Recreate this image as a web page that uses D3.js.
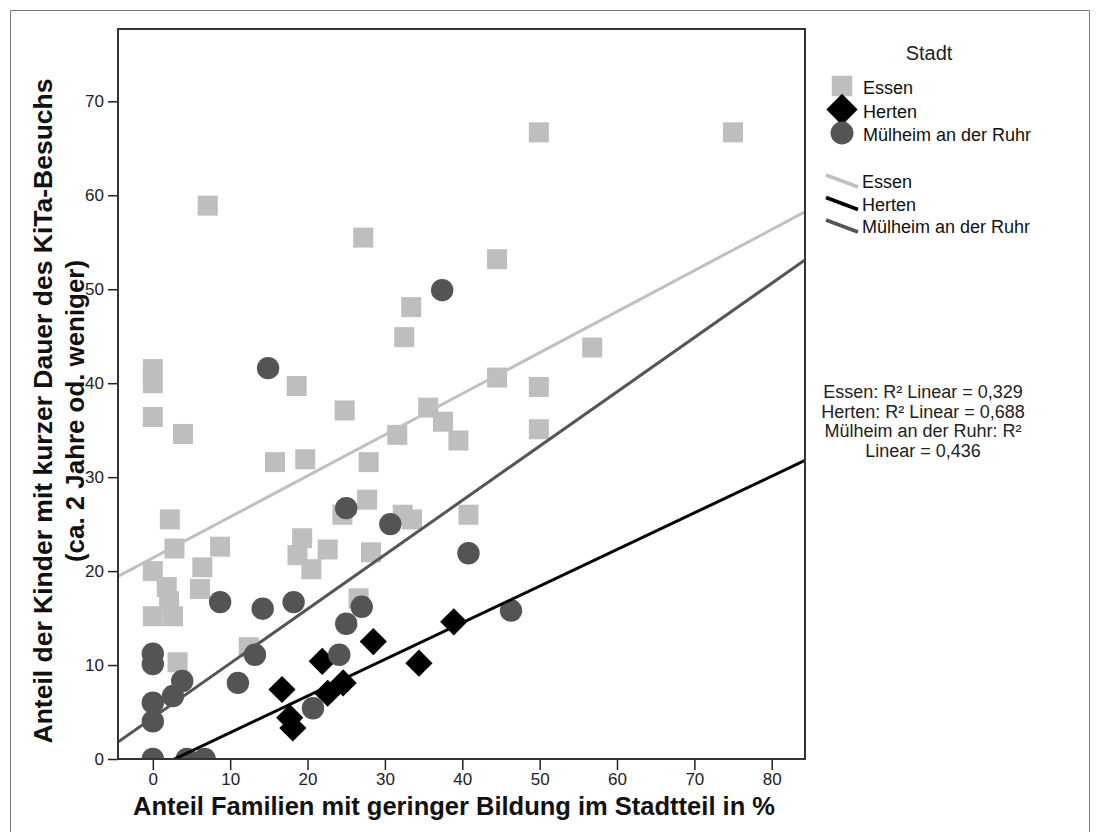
<!DOCTYPE html>
<html>
<head>
<meta charset="utf-8">
<script src="https://cdn.jsdelivr.net/npm/d3@7"></script>
<style>
  html, body { margin: 0; padding: 0; background: #fff; }
  svg { display: block; font-family: "Liberation Sans", Arial, sans-serif; }
</style>
</head>
<body>
<svg id="chart" width="1100" height="832"></svg>
<script>
// Share of families with low education (x, %) vs share of children with short KiTa attendance (y, %)
const cities = ["Essen", "Herten", "Mülheim an der Ruhr"];

const essenPoints = [
  [49.9, 66.7], [75.0, 66.7], [7.1, 58.9], [27.2, 55.5], [44.5, 53.2],
  [33.4, 48.1], [32.5, 44.9], [56.8, 43.8], [0, 41.5], [0, 40.0],
  [18.6, 39.7], [44.5, 40.6], [49.9, 39.6], [24.8, 37.1], [35.6, 37.4],
  [0, 36.4], [37.5, 35.9], [3.9, 34.6], [31.6, 34.5], [39.5, 33.9],
  [49.9, 35.1], [15.8, 31.6], [19.7, 31.9], [27.9, 31.6], [27.7, 27.6],
  [24.5, 26.0], [32.3, 26.0], [33.5, 25.5], [40.8, 26.0], [19.3, 23.5],
  [18.7, 21.7], [22.6, 22.3], [20.5, 20.2], [28.2, 22.0], [26.6, 17.1],
  [2.2, 25.5], [2.8, 22.4], [8.7, 22.6], [0, 20.0], [6.4, 20.4],
  [1.8, 18.3], [2.1, 16.8], [6.1, 18.1], [0, 15.2], [2.6, 15.2],
  [3.2, 10.3], [12.4, 11.9]
];

const hertenPoints = [
  [16.7, 7.4], [17.7, 4.4], [18.1, 3.3], [21.9, 10.4], [22.6, 7.0],
  [24.6, 8.1], [28.5, 12.5], [34.4, 10.2], [38.9, 14.6]
];

const muelheimPoints = [
  [14.9, 41.6], [37.4, 49.9], [25.0, 26.7], [30.7, 25.0], [40.8, 21.9],
  [46.3, 15.8], [8.7, 16.7], [14.2, 16.0], [18.2, 16.7], [27.0, 16.2],
  [25.0, 14.4], [24.1, 11.1], [20.7, 5.4], [0, 11.2], [0, 10.1],
  [3.8, 8.3], [2.6, 6.7], [0, 6.0], [0, 4.0], [13.2, 11.1],
  [11.0, 8.1], [0, 0], [4.4, 0], [6.7, 0]
];

// Linear fit per city: intercept and slope
const fitIntercepts = [21.4, -1.1, 4.4];
const fitSlopes = [0.437, 0.39, 0.578];
const r2Lines = [
  "Essen: R² Linear = 0,329",
  "Herten: R² Linear = 0,688",
  "Mülheim an der Ruhr: R²",
  "Linear = 0,436"
];

const xTicks = [0, 10, 20, 30, 40, 50, 60, 70, 80];
const yTicks = [0, 10, 20, 30, 40, 50, 60, 70];

const xTitle = "Anteil Familien mit geringer Bildung im Stadtteil in %";
const yTitleLines = ["Anteil der Kinder mit kurzer Dauer des KiTa-Besuchs", "(ca. 2 Jahre od. weniger)"];

const pointFill = ["#bebebe", "#000000", "#545454"];
const lineStroke = ["#c0c0c0", "#000000", "#555555"];

const svg = d3.select("#chart");
const plot = { left: 118, right: 805, top: 29, bottom: 759 };

const x = d3.scaleLinear().domain([-4.5, 84.3]).range([plot.left, plot.right]);
const y = d3.scaleLinear().domain([0, 77.7]).range([plot.bottom, plot.top]);

// outer frame
svg.append("path")
  .attr("d", "M10.5,840 V10.5 H1089.5 V840")
  .attr("fill", "none").attr("stroke", "#777").attr("stroke-width", 1);

svg.append("defs").append("clipPath").attr("id", "plotClip")
  .append("rect")
  .attr("x", plot.left).attr("y", plot.top)
  .attr("width", plot.right - plot.left).attr("height", plot.bottom - plot.top);

const diamond = r => `M0,${-r}L${r},0L0,${r}L${-r},0Z`;

function drawMarker(sel, cityIndex, size) {
  if (cityIndex === 0) {
    sel.append("rect").attr("x", -size / 2).attr("y", -size / 2)
      .attr("width", size).attr("height", size).attr("fill", pointFill[0]);
  } else if (cityIndex === 1) {
    sel.append("path").attr("d", diamond(size * 0.68)).attr("fill", pointFill[1]);
  } else {
    sel.append("circle").attr("r", size * 0.56).attr("fill", pointFill[2]);
  }
}

const marks = svg.append("g").attr("clip-path", "url(#plotClip)");

[essenPoints, hertenPoints, muelheimPoints].forEach((pts, i) => {
  marks.append("g").selectAll("g").data(pts).join("g")
    .attr("transform", d => `translate(${x(d[0])},${y(d[1])})`)
    .each(function () { drawMarker(d3.select(this), i, 20); });
});

// fit lines across the whole x domain
const [x0, x1] = x.domain();
cities.forEach((c, i) => {
  const f = v => fitIntercepts[i] + fitSlopes[i] * v;
  marks.append("line")
    .attr("x1", x(x0)).attr("y1", y(f(x0)))
    .attr("x2", x(x1)).attr("y2", y(f(x1)))
    .attr("stroke", lineStroke[i]).attr("stroke-width", 3);
});

// axes
const xAxis = svg.append("g").attr("transform", `translate(0,${plot.bottom})`)
  .call(d3.axisBottom(x).tickValues(xTicks).tickSize(11).tickPadding(3).tickFormat(d3.format("d")));
const yAxis = svg.append("g").attr("transform", `translate(${plot.left},0)`)
  .call(d3.axisLeft(y).tickValues(yTicks).tickSize(10).tickPadding(4).tickFormat(d3.format("d")));
[xAxis, yAxis].forEach(a => {
  a.select(".domain").remove();
  a.selectAll(".tick line").attr("stroke", "#222").attr("stroke-width", 1.5);
  a.selectAll(".tick text").attr("fill", "#222")
    .style("font-family", "'Liberation Sans', Arial, sans-serif").style("font-size", "17px");
});

// plot frame
svg.append("rect")
  .attr("x", plot.left).attr("y", plot.top)
  .attr("width", plot.right - plot.left).attr("height", plot.bottom - plot.top)
  .attr("fill", "none").attr("stroke", "#333").attr("stroke-width", 2);

// axis titles
svg.append("text")
  .attr("x", 454).attr("y", 815)
  .attr("text-anchor", "middle").attr("font-weight", "bold").attr("font-size", 25)
  .attr("textLength", 642).attr("lengthAdjust", "spacingAndGlyphs")
  .attr("fill", "#111").text(xTitle);

const yTitleLengths = [665, 302];
yTitleLines.forEach((t, i) => {
  svg.append("text")
    .attr("transform", `translate(${52 + i * 32},411) rotate(-90)`)
    .attr("text-anchor", "middle").attr("font-weight", "bold").attr("font-size", 25)
    .attr("textLength", yTitleLengths[i]).attr("lengthAdjust", "spacingAndGlyphs")
    .attr("fill", "#111").text(t);
});

// legend
const legend = svg.append("g");
legend.append("text").attr("x", 929).attr("y", 60).attr("text-anchor", "middle")
  .attr("font-size", 20).attr("fill", "#222").text("Stadt");

cities.forEach((c, i) => {
  const cy = 86 + i * 23.5;
  const g = legend.append("g").attr("transform", `translate(842,${cy})`);
  drawMarker(g, i, i === 1 ? 23 : 20.5);
  legend.append("text").attr("x", 863).attr("y", cy + 8).attr("font-size", 18)
    .attr("fill", "#111").text(c);
});

cities.forEach((c, i) => {
  const cy = 181 + i * 22.5;
  legend.append("line")
    .attr("x1", 826).attr("y1", cy - 6).attr("x2", 858).attr("y2", cy + 6)
    .attr("stroke", lineStroke[i]).attr("stroke-width", 3.5);
  legend.append("text").attr("x", 862).attr("y", cy + 7).attr("font-size", 18)
    .attr("fill", "#111").text(c);
});

// R² annotations
r2Lines.forEach((t, i) => {
  svg.append("text").attr("x", 923).attr("y", 398 + i * 19.5)
    .attr("text-anchor", "middle").attr("font-size", 18)
    .attr("fill", "#222").text(t);
});
</script>
</body>
</html>
